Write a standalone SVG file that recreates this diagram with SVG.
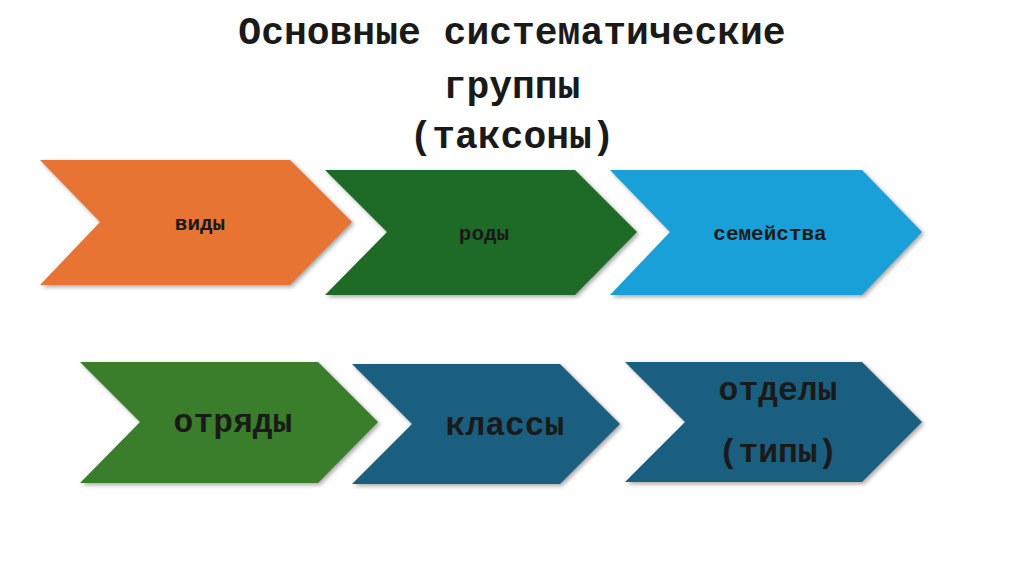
<svg xmlns="http://www.w3.org/2000/svg" width="1024" height="574" viewBox="0 0 1024 574">
<style>
text{font-family:"Liberation Mono","Courier New",monospace;font-weight:bold;fill:#1a1a1a;text-anchor:middle}
.t{font-size:38px}
.s{font-size:21px}
.b{font-size:33px}
polygon{filter:drop-shadow(2px 2px 2px rgba(0,0,0,0.35))}
</style>
<rect width="1024" height="574" fill="#fff"/>
<g id="title">
<text class="t" x="512" y="44">Основные систематические</text>
<text class="t" x="512" y="98">группы</text>
<text class="t" x="512" y="148">(таксоны)</text>
</g>
<g id="n1"><polygon points="40,160 290,160 352,222 290,285 40,285 100,222" fill="#E87434"/><text class="s" x="200" y="230">виды</text></g>
<g id="n2"><polygon points="325,170 575,170 637,232 575,295 325,295 387,232" fill="#1E6B28"/><text class="s" x="484" y="240">роды</text></g>
<g id="n3"><polygon points="610,170 862,170 922,232 862,295 610,295 670,232" fill="#1AA0D8"/><text class="s" x="770" y="240">семейства</text></g>
<g id="n4"><polygon points="80,362 318,362 378,422 318,483 80,483 140,422" fill="#3A7D2A"/><text class="b" x="233" y="432">отряды</text></g>
<g id="n5"><polygon points="352,364 560,364 620,424 560,484 352,484 412,424" fill="#1A5E80"/><text class="b" x="505" y="435">классы</text></g>
<g id="n6"><polygon points="625,362 862,362 922,422 862,482 625,482 685,422" fill="#1A5E80"/><text class="b" x="778" y="400">отделы</text><text class="b" x="778" y="462">(типы)</text></g>
<g id="connectors"></g>
</svg>
